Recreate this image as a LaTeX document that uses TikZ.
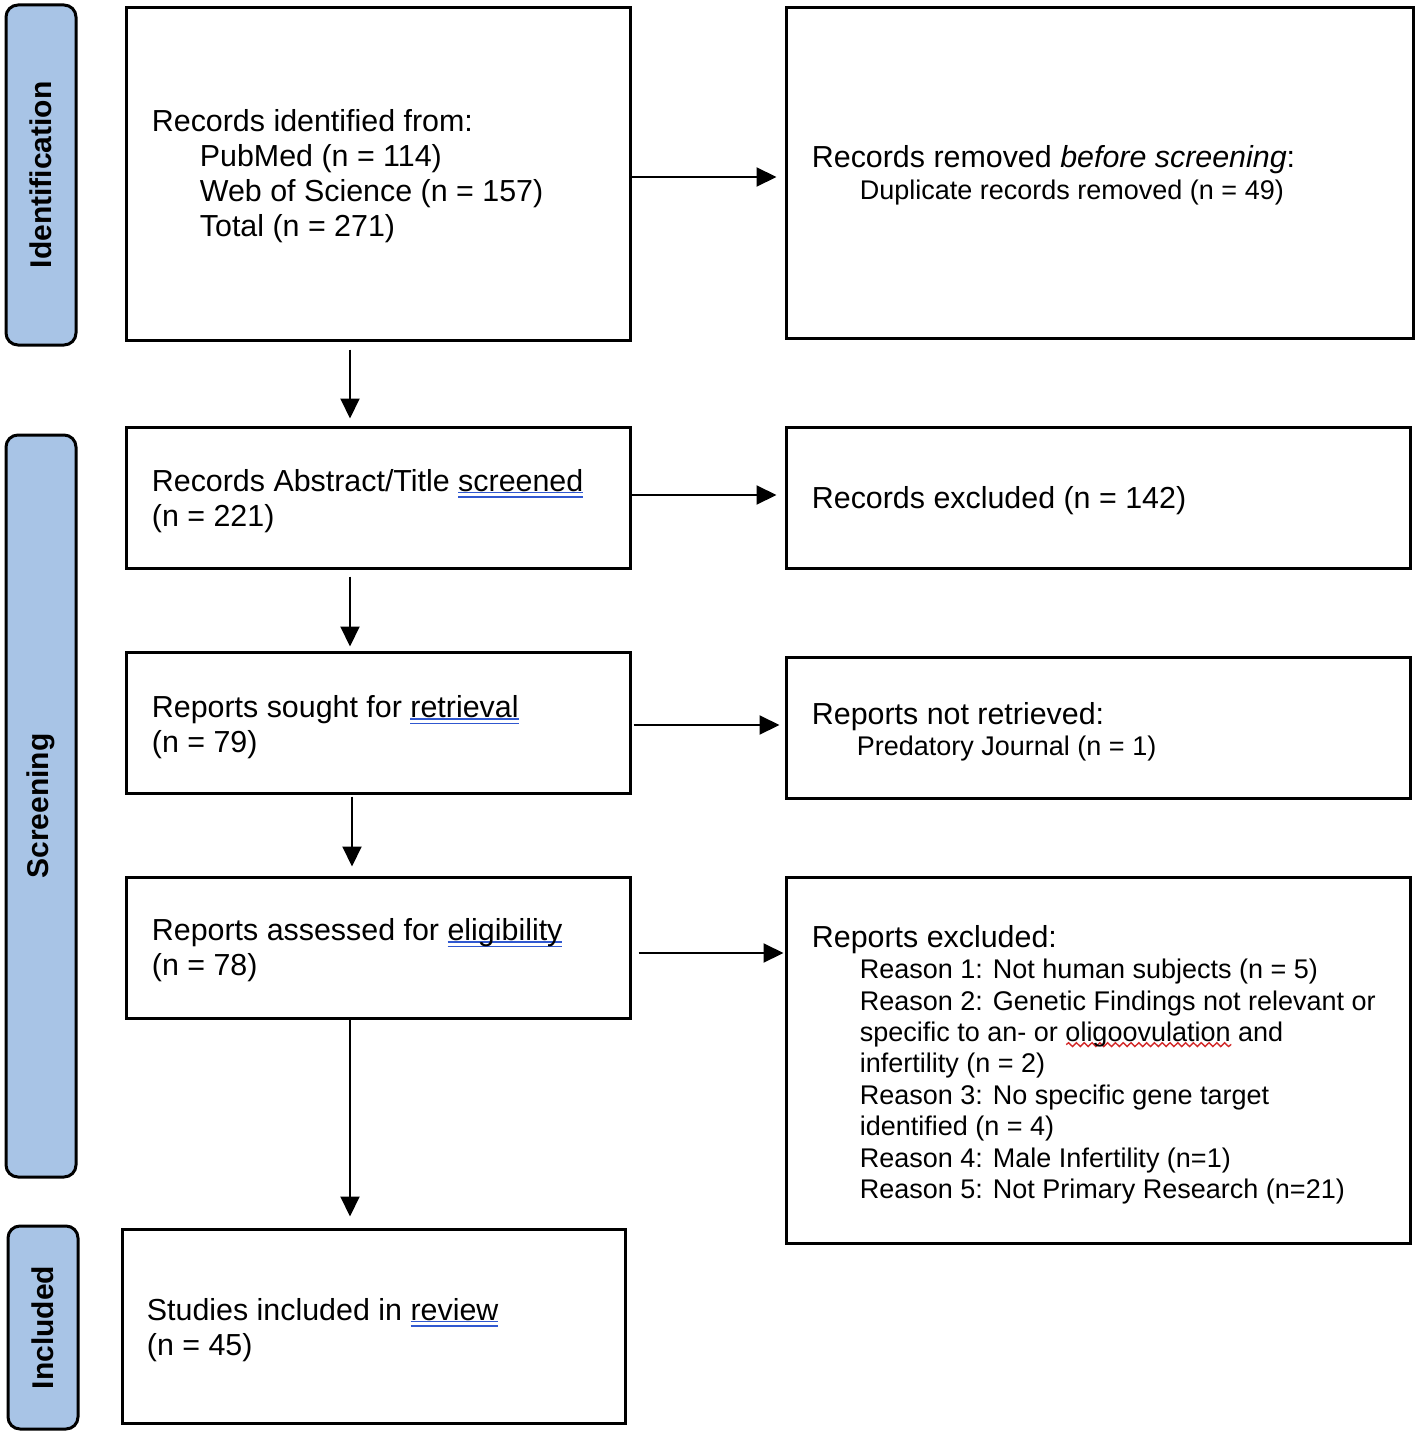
\documentclass[tikz,border=0pt]{standalone}
\usepackage{fontspec}
\setmainfont{Liberation Sans}
\usetikzlibrary{arrows.meta,decorations.pathmorphing,calc}
\definecolor{sidefill}{RGB}{168,196,230}
\definecolor{ulblue}{RGB}{48,88,208}
\definecolor{ulred}{RGB}{210,40,40}
\newsavebox\ulbox
\newcommand\bul[1]{\sbox\ulbox{#1}\rlap{\color{ulblue}\rule[-1.0pt]{\wd\ulbox}{0.8pt}}\rlap{\color{ulblue}\rule[-3.2pt]{\wd\ulbox}{0.8pt}}\usebox\ulbox}
\newcommand\wul[1]{\sbox\ulbox{#1}\edef\ulw{\the\wd\ulbox}\rlap{\tikz[baseline=0pt]\draw[ulred,line width=0.7pt,decorate,decoration={snake,amplitude=0.95pt,segment length=3.9pt}] (0pt,-1.6pt) -- (\ulw,-1.6pt);}\usebox\ulbox}
\newcommand\Lm[1]{\fontsize{15.2}{17.5}\selectfont\hbox{#1}}
\newcommand\Ls[2][24pt]{\fontsize{13.5}{15.7}\selectfont\hbox{\hskip#1\relax#2}}
\newcommand\ind{\hskip24pt\relax}
\begin{document}
\begin{tikzpicture}[x=0.5pt,y=-0.5pt,
 box/.style={draw,line width=1.5pt,inner sep=0pt},
 side/.style={draw,line width=1.5pt,fill=sidefill,rounded corners=6pt,inner sep=0pt,font=\fontsize{15}{18}\selectfont\bfseries},
 txt/.style={inner sep=0pt,anchor=west,font=\fontsize{15.2}{17.5}\selectfont},
 arr/.style={line width=1pt,-{Triangle[length=10pt,width=9.5pt]}}]
\useasboundingbox (0,0) rectangle (1417,1434);
% side labels
\node[side,rotate=90,minimum width=170pt,minimum height=35pt] (s1) at (41,175) {Identification};
\node[side,rotate=90,minimum width=371pt,minimum height=35pt] (s2) at (41,806) {Screening};
\node[side,rotate=90,minimum width=101.5pt,minimum height=35pt] (s3) at (43,1327.5) {Included};
% boxes
\node[box,minimum width=252pt,minimum height=166pt] (b1) at (378,174) {};
\node[box,minimum width=313.5pt,minimum height=165pt] (b2) at (1099.5,173) {};
\node[box,minimum width=252pt,minimum height=70.5pt] (b3) at (378,497.5) {};
\node[box,minimum width=312pt,minimum height=70.5pt] (b4) at (1098,497.5) {};
\node[box,minimum width=252pt,minimum height=70.5pt] (b5) at (378,722.5) {};
\node[box,minimum width=312pt,minimum height=70.5pt] (b6) at (1098,727.5) {};
\node[box,minimum width=252pt,minimum height=70.5pt] (b7) at (378,947.5) {};
\node[box,minimum width=312pt,minimum height=183pt] (b8) at (1098,1060) {};
\node[box,minimum width=251.5pt,minimum height=97pt] (b9) at (373.5,1326) {};
% texts
\node[txt] (t1) at ([xshift=13.5pt,yshift=-1pt]b1.west) {\vbox{\Lm{Records identified from:}\Lm{\ind PubMed (n = 114)}\Lm{\ind Web of Science (n = 157)}\Lm{\ind Total (n = 271)}}};
\node[txt] (t2) at ([xshift=13.5pt,yshift=-1.2pt]b2.west) {\vbox{\Lm{Records removed \textit{before screening}:}\Ls{Duplicate records removed (n = 49)}}};
\node[txt] (t3) at ([xshift=13.5pt,yshift=-1.75pt]b3.west) {\vbox{\Lm{Records Abstract/Title \bul{screened}}\Lm{(n = 221)}}};
\node[txt] (t4) at ([xshift=13.5pt,yshift=-1.5pt]b4.west) {\vbox{\Lm{Records excluded (n = 142)}}};
\node[txt] (t5) at ([xshift=13.5pt,yshift=-2.5pt]b5.west) {\vbox{\Lm{Reports sought for \bul{retrieval}}\Lm{(n = 79)}}};
\node[txt] (t6) at ([xshift=13.5pt,yshift=-2.2pt]b6.west) {\vbox{\Lm{Reports not retrieved:}\Ls[22.5pt]{Predatory Journal (n = 1)}}};
\node[txt] (t7) at ([xshift=13.5pt,yshift=-1.5pt]b7.west) {\vbox{\Lm{Reports assessed for \bul{eligibility}}\Lm{(n = 78)}}};
\node[txt] (t8) at ([xshift=13.5pt,yshift=-2.3pt]b8.west) {\vbox{\Lm{Reports excluded:}
\Ls{Reason 1: Not human subjects (n = 5)}
\Ls{Reason 2: Genetic Findings not relevant or}
\Ls{specific to an- or \wul{oligoovulation} and}
\Ls{infertility (n = 2)}
\Ls{Reason 3: No specific gene target}
\Ls{identified (n = 4)}
\Ls{Reason 4: Male Infertility (n=1)}
\Ls{Reason 5: Not Primary Research (n=21)}}};
\node[txt] (t9) at ([xshift=13pt,yshift=-2pt]b9.west) {\vbox{\Lm{Studies included in \bul{review}}\Lm{(n = 45)}}};
% horizontal arrows
\draw[arr,shorten >=4pt] ($(b1.east)+(0,3)$) -- ($(b1.east -| b2.west)+(0,3)$);
\draw[arr,shorten >=4pt] ($(b3.east)+(0,-2.5)$) -- ($(b3.east -| b4.west)+(0,-2.5)$);
\draw[arr,shorten <=1pt,shorten >=2.5pt] ($(b5.east)+(0,2.5)$) -- ($(b5.east -| b6.west)+(0,2.5)$);
\draw[arr,shorten <=3.5pt,shorten >=0.5pt] ($(b7.east)+(0,5.5)$) -- ($(b7.east -| b8.west)+(0,5.5)$);
% vertical arrows
\draw[arr,shorten <=4pt,shorten >=3.5pt] ($(b1.south)+(-28,0)$) -- ($(b1.south |- b3.north)+(-28,0)$);
\draw[arr,shorten <=3.5pt,shorten >=2pt] ($(b3.south)+(-28,0)$) -- ($(b3.south |- b5.north)+(-28,0)$);
\draw[arr,shorten <=1pt,shorten >=4.5pt] ($(b5.south)+(-26,0)$) -- ($(b5.south |- b7.north)+(-26,0)$);
\draw[arr,shorten >=5.5pt] ($(b7.south)+(-28,0)$) -- ($(b7.south |- b9.north)+(-28,0)$);
\end{tikzpicture}
\end{document}
